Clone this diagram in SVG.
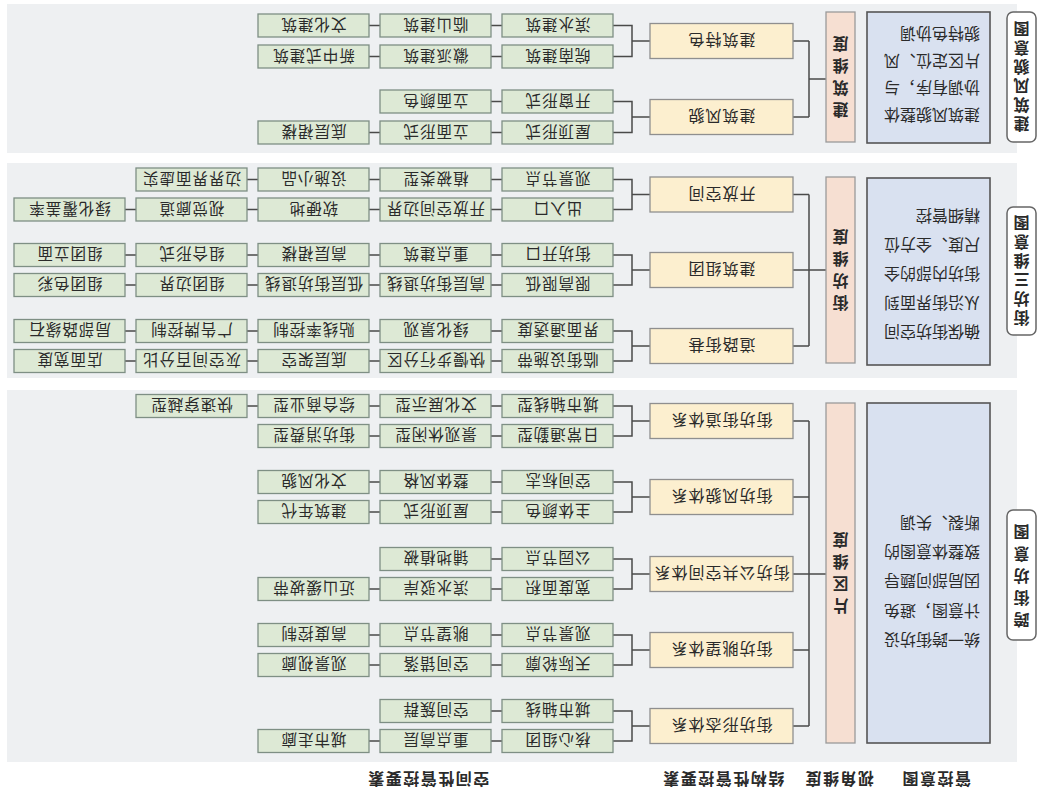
<svg xmlns="http://www.w3.org/2000/svg" width="1048" height="799" viewBox="0 0 1048 799">
<style>
text{font-family:"Noto Sans CJK SC","Noto Sans",sans-serif;fill:#2a2a2a}
.panel{fill:#eef0f2}
.g{fill:#dde9d5;stroke:#7e8f84;stroke-width:1.3}
.gt{font-size:15.5px;text-anchor:middle;dominant-baseline:central;letter-spacing:1px}
.y{fill:#fcefcf;stroke:#8f8f8f;stroke-width:1.3}
.yt{font-size:16px;text-anchor:middle;dominant-baseline:central;letter-spacing:1px}
.p{fill:#f6dfd2;stroke:#9a9a9a;stroke-width:1.3}
.pt{font-size:16px;font-weight:bold;text-anchor:middle;writing-mode:vertical-rl;letter-spacing:6px}
.b{fill:#d9e1f0;stroke:#555;stroke-width:1.6}
.bt{font-size:16px;dominant-baseline:central}
.l{fill:#fff;stroke:#666;stroke-width:1.5}
.lt{font-size:16px;font-weight:bold;text-anchor:middle;writing-mode:vertical-rl;letter-spacing:3px}
.hd{font-size:16px;font-weight:bold;text-anchor:middle;dominant-baseline:central;letter-spacing:1.5px}
.c{fill:none;stroke:#4a4a4a;stroke-width:1.5}
</style>
<rect width="1048" height="799" fill="#ffffff"/>
<g transform="rotate(180 524 399.5)">
<g id="panels">
<rect class="panel" x="31" y="646" width="1010" height="149"/>
<rect class="panel" x="31" y="421" width="1010" height="215"/>
<rect class="panel" x="31" y="37" width="1010" height="372"/>
</g>
<g id="headers">
<text class="hd" x="112" y="19">管控意图</text>
<text class="hd" x="209" y="19">视角维度</text>
<text class="hd" x="325" y="19">结构性管控要素</text>
<text class="hd" x="620" y="19">空间性管控要素</text>
</g>
<g id="connectors">
<path class="c" d="M435 742.5H416V773.5H435M416 758H398M435 666.5H416V697.5H435M416 682H398"/>
<path class="c" d="M435 589.5H416V619.5H435M416 604.5H398M435 514H416V544H435M416 529H398M435 438H416V468H435M416 453H398"/>
<path class="c" d="M435 363H416V393H435M416 378H398M435 287H416V317H435M416 302H398M435 210H416V240H435M416 225H398M435 134H416V164H435M416 149H398M435 58H416V88H435M416 73H398"/>
<path class="c" d="M255 758H239M255 682H239M239 682V758M239 720H222"/>
<path class="c" d="M255 604.5H239M255 529H239M255 453H239M239 453V604.5M239 529H222"/>
<path class="c" d="M255 378H239M255 302H239M255 225H239M255 149H239M255 73H239M239 73V378M239 225H222"/>
<path class="c" d="M546 742.5H557M668 742.5H679M546 773.5H557M668 773.5H679M546 666.5H557M668 666.5H679M546 697.5H557"/>
<path class="c" d="M546 589.5H557M668 589.5H679M790 589.5H801M912 589.5H923M546 619.5H557M668 619.5H679M790 619.5H801"/>
<path class="c" d="M546 514H557M668 514H679M790 514H801M912 514H923M546 544H557M668 544H679M790 544H801M912 544H923"/>
<path class="c" d="M546 438H557M668 438H679M790 438H801M912 438H923M546 468H557M668 468H679M790 468H801M912 468H923"/>
<path class="c" d="M546 363H557M668 363H679M546 393H557M668 393H679M790 393H801M546 287H557M668 287H679M546 317H557M668 317H679"/>
<path class="c" d="M546 210H557M668 210H679M546 240H557M546 134H557M668 134H679M546 164H557M668 164H679M546 58H557M668 58H679M546 88H557"/>
</g>

<g id="intent-1"><rect class="l" x="12" y="657" width="29" height="130" rx="6"/><text class="lt" x="26.5" y="723.5">建筑风貌意图</text></g>
<g id="intent-2"><rect class="l" x="12" y="464" width="29" height="128" rx="6"/><text class="lt" x="26.5" y="529.5">街坊三维意图</text></g>
<g id="intent-3"><rect class="l" x="12" y="159" width="29" height="130" rx="6"/><text class="lt" x="26.5" y="225.5" style="letter-spacing:6px">跨街坊意图</text></g>

<g id="desc-1"><rect class="b" x="58" y="656" width="123" height="131"/><text class="bt"><tspan x="68" y="683">建筑风貌整体</tspan><tspan x="68" y="710">协调有序，与</tspan><tspan x="68" y="737">片区定位、风</tspan><tspan x="68" y="764">貌特色协调</tspan></text></g>
<g id="desc-2"><rect class="b" x="58" y="434" width="123" height="187"/><text class="bt"><tspan x="68" y="466">确保街坊空间</tspan><tspan x="68" y="495">从沿街界面到</tspan><tspan x="68" y="524">街坊内部的全</tspan><tspan x="68" y="553">尺度、全方位</tspan><tspan x="68" y="582">精细管控</tspan></text></g>
<g id="desc-3"><rect class="b" x="58" y="56" width="123" height="340"/><text class="bt"><tspan x="68" y="158">统一跨街坊设</tspan><tspan x="68" y="187">计意图，避免</tspan><tspan x="68" y="217">因局部问题导</tspan><tspan x="68" y="246">致整体意图的</tspan><tspan x="68" y="275">断裂、失调</tspan></text></g>

<g id="dim-1"><rect class="p" x="193" y="657" width="29" height="130"/><text class="pt" x="207.5" y="725">建筑维度</text></g>
<g id="dim-2"><rect class="p" x="193" y="436" width="29" height="186"/><text class="pt" x="207.5" y="532">街坊维度</text></g>
<g id="dim-3"><rect class="p" x="193" y="56" width="29" height="340"/><text class="pt" x="207.5" y="229">片区维度</text></g>

<g id="s-jzts"><rect class="y" x="255" y="740.5" width="143" height="35"/><text class="yt" x="326.5" y="758">建筑特色</text></g>
<g id="s-jzfm"><rect class="y" x="255" y="664.5" width="143" height="35"/><text class="yt" x="326.5" y="682">建筑风貌</text></g>
<g id="s-kfkj"><rect class="y" x="255" y="587" width="143" height="35"/><text class="yt" x="326.5" y="604.5">开放空间</text></g>
<g id="s-jzzt"><rect class="y" x="255" y="511.5" width="143" height="35"/><text class="yt" x="326.5" y="529">建筑组团</text></g>
<g id="s-dljx"><rect class="y" x="255" y="435.5" width="143" height="35"/><text class="yt" x="326.5" y="453">道路街巷</text></g>
<g id="s-jdtx"><rect class="y" x="255" y="360.5" width="143" height="35"/><text class="yt" x="326.5" y="378">街坊街道体系</text></g>
<g id="s-fmtx"><rect class="y" x="255" y="284.5" width="143" height="35"/><text class="yt" x="326.5" y="302">街坊风貌体系</text></g>
<g id="s-ggkj"><rect class="y" x="255" y="207.5" width="143" height="35"/><text class="yt" x="326.5" y="225">街坊公共空间体系</text></g>
<g id="s-twtx"><rect class="y" x="255" y="131.5" width="143" height="35"/><text class="yt" x="326.5" y="149">街坊眺望体系</text></g>
<g id="s-xttx"><rect class="y" x="255" y="55.5" width="143" height="35"/><text class="yt" x="326.5" y="73">街坊形态体系</text></g>

<g id="e1"><rect class="g" x="435" y="731" width="111" height="23"/><text class="gt" x="490.5" y="742.5">皖南建筑</text></g>
<g id="e2"><rect class="g" x="557" y="731" width="111" height="23"/><text class="gt" x="612.5" y="742.5">徽派建筑</text></g>
<g id="e3"><rect class="g" x="679" y="731" width="111" height="23"/><text class="gt" x="734.5" y="742.5">新中式建筑</text></g>
<g id="e4"><rect class="g" x="435" y="762" width="111" height="23"/><text class="gt" x="490.5" y="773.5">滨水建筑</text></g>
<g id="e5"><rect class="g" x="557" y="762" width="111" height="23"/><text class="gt" x="612.5" y="773.5">临山建筑</text></g>
<g id="e6"><rect class="g" x="679" y="762" width="111" height="23"/><text class="gt" x="734.5" y="773.5">文化建筑</text></g>
<g id="e7"><rect class="g" x="435" y="655" width="111" height="23"/><text class="gt" x="490.5" y="666.5">屋顶形式</text></g>
<g id="e8"><rect class="g" x="557" y="655" width="111" height="23"/><text class="gt" x="612.5" y="666.5">立面形式</text></g>
<g id="e9"><rect class="g" x="679" y="655" width="111" height="23"/><text class="gt" x="734.5" y="666.5">底层裙楼</text></g>
<g id="e10"><rect class="g" x="435" y="686" width="111" height="23"/><text class="gt" x="490.5" y="697.5">开窗形式</text></g>
<g id="e11"><rect class="g" x="557" y="686" width="111" height="23"/><text class="gt" x="612.5" y="697.5">立面颜色</text></g>

<g id="e12"><rect class="g" x="435" y="578" width="111" height="23"/><text class="gt" x="490.5" y="589.5">出入口</text></g>
<g id="e13"><rect class="g" x="557" y="578" width="111" height="23"/><text class="gt" x="612.5" y="589.5">开放空间边界</text></g>
<g id="e14"><rect class="g" x="679" y="578" width="111" height="23"/><text class="gt" x="734.5" y="589.5">软硬地</text></g>
<g id="e15"><rect class="g" x="801" y="578" width="111" height="23"/><text class="gt" x="856.5" y="589.5">视觉廊道</text></g>
<g id="e16"><rect class="g" x="923" y="578" width="111" height="23"/><text class="gt" x="978.5" y="589.5">绿化覆盖率</text></g>
<g id="e17"><rect class="g" x="435" y="608" width="111" height="23"/><text class="gt" x="490.5" y="619.5">观景节点</text></g>
<g id="e18"><rect class="g" x="557" y="608" width="111" height="23"/><text class="gt" x="612.5" y="619.5">植被类型</text></g>
<g id="e19"><rect class="g" x="679" y="608" width="111" height="23"/><text class="gt" x="734.5" y="619.5">设施小品</text></g>
<g id="e20"><rect class="g" x="801" y="608" width="111" height="23"/><text class="gt" x="856.5" y="619.5">边界界面虚实</text></g>
<g id="e21"><rect class="g" x="435" y="502.5" width="111" height="23"/><text class="gt" x="490.5" y="514">限高限低</text></g>
<g id="e22"><rect class="g" x="557" y="502.5" width="111" height="23"/><text class="gt" x="612.5" y="514">高层街坊退线</text></g>
<g id="e23"><rect class="g" x="679" y="502.5" width="111" height="23"/><text class="gt" x="734.5" y="514">低层街坊退线</text></g>
<g id="e24"><rect class="g" x="801" y="502.5" width="111" height="23"/><text class="gt" x="856.5" y="514">组团边界</text></g>
<g id="e25"><rect class="g" x="923" y="502.5" width="111" height="23"/><text class="gt" x="978.5" y="514">组团色彩</text></g>
<g id="e26"><rect class="g" x="435" y="532.5" width="111" height="23"/><text class="gt" x="490.5" y="544">街坊开口</text></g>
<g id="e27"><rect class="g" x="557" y="532.5" width="111" height="23"/><text class="gt" x="612.5" y="544">重点建筑</text></g>
<g id="e28"><rect class="g" x="679" y="532.5" width="111" height="23"/><text class="gt" x="734.5" y="544">高层裙楼</text></g>
<g id="e29"><rect class="g" x="801" y="532.5" width="111" height="23"/><text class="gt" x="856.5" y="544">组合形式</text></g>
<g id="e30"><rect class="g" x="923" y="532.5" width="111" height="23"/><text class="gt" x="978.5" y="544">组团立面</text></g>
<g id="e31"><rect class="g" x="435" y="426.5" width="111" height="23"/><text class="gt" x="490.5" y="438">临街设施带</text></g>
<g id="e32"><rect class="g" x="557" y="426.5" width="111" height="23"/><text class="gt" x="612.5" y="438">快慢步行分区</text></g>
<g id="e33"><rect class="g" x="679" y="426.5" width="111" height="23"/><text class="gt" x="734.5" y="438">底层架空</text></g>
<g id="e34"><rect class="g" x="801" y="426.5" width="111" height="23"/><text class="gt" x="856.5" y="438">灰空间百分比</text></g>
<g id="e35"><rect class="g" x="923" y="426.5" width="111" height="23"/><text class="gt" x="978.5" y="438">店面宽度</text></g>
<g id="e36"><rect class="g" x="435" y="456.5" width="111" height="23"/><text class="gt" x="490.5" y="468">界面通透度</text></g>
<g id="e37"><rect class="g" x="557" y="456.5" width="111" height="23"/><text class="gt" x="612.5" y="468">绿化景观</text></g>
<g id="e38"><rect class="g" x="679" y="456.5" width="111" height="23"/><text class="gt" x="734.5" y="468">贴线率控制</text></g>
<g id="e39"><rect class="g" x="801" y="456.5" width="111" height="23"/><text class="gt" x="856.5" y="468">广告牌控制</text></g>
<g id="e40"><rect class="g" x="923" y="456.5" width="111" height="23"/><text class="gt" x="978.5" y="468">局部路缘石</text></g>

<g id="e41"><rect class="g" x="435" y="351.5" width="111" height="23"/><text class="gt" x="490.5" y="363">日常通勤型</text></g>
<g id="e42"><rect class="g" x="557" y="351.5" width="111" height="23"/><text class="gt" x="612.5" y="363">景观休闲型</text></g>
<g id="e43"><rect class="g" x="679" y="351.5" width="111" height="23"/><text class="gt" x="734.5" y="363">街坊消费型</text></g>
<g id="e44"><rect class="g" x="435" y="381.5" width="111" height="23"/><text class="gt" x="490.5" y="393">城市轴线型</text></g>
<g id="e45"><rect class="g" x="557" y="381.5" width="111" height="23"/><text class="gt" x="612.5" y="393">文化展示型</text></g>
<g id="e46"><rect class="g" x="679" y="381.5" width="111" height="23"/><text class="gt" x="734.5" y="393">综合商业型</text></g>
<g id="e47"><rect class="g" x="801" y="381.5" width="111" height="23"/><text class="gt" x="856.5" y="393">快速穿越型</text></g>
<g id="e48"><rect class="g" x="435" y="275.5" width="111" height="23"/><text class="gt" x="490.5" y="287">主体颜色</text></g>
<g id="e49"><rect class="g" x="557" y="275.5" width="111" height="23"/><text class="gt" x="612.5" y="287">屋顶形式</text></g>
<g id="e50"><rect class="g" x="679" y="275.5" width="111" height="23"/><text class="gt" x="734.5" y="287">建筑年代</text></g>
<g id="e51"><rect class="g" x="435" y="305.5" width="111" height="23"/><text class="gt" x="490.5" y="317">空间标志</text></g>
<g id="e52"><rect class="g" x="557" y="305.5" width="111" height="23"/><text class="gt" x="612.5" y="317">整体风格</text></g>
<g id="e53"><rect class="g" x="679" y="305.5" width="111" height="23"/><text class="gt" x="734.5" y="317">文化风貌</text></g>
<g id="e54"><rect class="g" x="435" y="198.5" width="111" height="23"/><text class="gt" x="490.5" y="210">宽度面积</text></g>
<g id="e55"><rect class="g" x="557" y="198.5" width="111" height="23"/><text class="gt" x="612.5" y="210">滨水驳岸</text></g>
<g id="e56"><rect class="g" x="679" y="198.5" width="111" height="23"/><text class="gt" x="734.5" y="210">近山缓坡带</text></g>
<g id="e57"><rect class="g" x="435" y="228.5" width="111" height="23"/><text class="gt" x="490.5" y="240">公园节点</text></g>
<g id="e58"><rect class="g" x="557" y="228.5" width="111" height="23"/><text class="gt" x="612.5" y="240">铺地植被</text></g>
<g id="e59"><rect class="g" x="435" y="122.5" width="111" height="23"/><text class="gt" x="490.5" y="134">天际轮廓</text></g>
<g id="e60"><rect class="g" x="557" y="122.5" width="111" height="23"/><text class="gt" x="612.5" y="134">空间错落</text></g>
<g id="e61"><rect class="g" x="679" y="122.5" width="111" height="23"/><text class="gt" x="734.5" y="134">观景视廊</text></g>
<g id="e62"><rect class="g" x="435" y="152.5" width="111" height="23"/><text class="gt" x="490.5" y="164">观景节点</text></g>
<g id="e63"><rect class="g" x="557" y="152.5" width="111" height="23"/><text class="gt" x="612.5" y="164">眺望节点</text></g>
<g id="e64"><rect class="g" x="679" y="152.5" width="111" height="23"/><text class="gt" x="734.5" y="164">高度控制</text></g>
<g id="e65"><rect class="g" x="435" y="46.5" width="111" height="23"/><text class="gt" x="490.5" y="58">核心组团</text></g>
<g id="e66"><rect class="g" x="557" y="46.5" width="111" height="23"/><text class="gt" x="612.5" y="58">重点高层</text></g>
<g id="e67"><rect class="g" x="679" y="46.5" width="111" height="23"/><text class="gt" x="734.5" y="58">城市走廊</text></g>
<g id="e68"><rect class="g" x="435" y="76.5" width="111" height="23"/><text class="gt" x="490.5" y="88">城市轴线</text></g>
<g id="e69"><rect class="g" x="557" y="76.5" width="111" height="23"/><text class="gt" x="612.5" y="88">空间簇群</text></g>
</g>
</svg>
